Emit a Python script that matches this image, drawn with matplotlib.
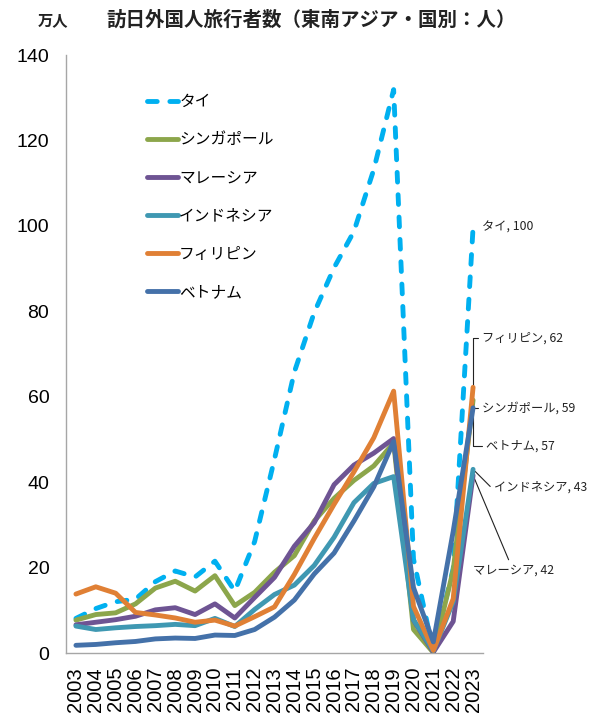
import numpy as np
import matplotlib
matplotlib.use('Agg')
import matplotlib.pyplot as plt

plt.rcParams['font.family'] = ['Liberation Sans', 'Noto Sans CJK JP', 'DejaVu Sans']
JP = ['Noto Sans CJK JP', 'DejaVu Sans']

years = list(range(2003, 2024))

# 万人
thai = [8.1, 10.4, 12.0, 12.6, 16.7, 19.2, 17.8, 21.5, 14.5, 26.1, 45.4,
        65.8, 79.7, 90.2, 98.7, 113.2, 131.9, 22.0, 0.3, 19.8, 99.6]
singapore = [7.7, 9.0, 9.4, 11.5, 15.2, 16.8, 14.5, 18.1, 11.1, 14.2, 18.9,
             22.8, 30.9, 36.2, 40.4, 43.8, 49.2, 5.5, 0.1, 19.4, 59.2]
malaysia = [6.6, 7.2, 7.8, 8.6, 10.1, 10.6, 9.0, 11.5, 8.2, 13.0, 17.7,
            25.0, 30.5, 39.4, 44.0, 46.8, 50.2, 7.7, 0.2, 7.4, 41.6]
indonesia = [6.3, 5.5, 5.9, 6.2, 6.4, 6.7, 6.4, 8.1, 6.2, 10.2, 13.7,
             15.9, 20.5, 27.1, 35.2, 39.7, 41.3, 7.8, 0.5, 12.0, 43.0]
philippines = [13.8, 15.5, 14.0, 9.5, 8.9, 8.2, 7.2, 7.7, 6.3, 8.5, 10.8,
               18.4, 26.8, 34.8, 42.4, 50.4, 61.3, 10.9, 0.6, 12.7, 62.2]
vietnam = [1.8, 2.0, 2.4, 2.7, 3.3, 3.5, 3.4, 4.2, 4.1, 5.5, 8.4,
           12.4, 18.5, 23.4, 30.9, 38.9, 49.5, 15.3, 2.6, 28.5, 57.4]

names = ['タイ', 'シンガポール', 'マレーシア', 'インドネシア', 'フィリピン', 'ベトナム']
series = [thai, singapore, malaysia, indonesia, philippines, vietnam]
colors = ['#00B0F0', '#8CA64B', '#6E5493', '#3F98B2', '#E08035', '#4471A9']

fig = plt.figure(figsize=(5.89, 7.17), dpi=100)
ax = fig.add_axes([66/589, 1-653/717, (483-66)/589, (653-55)/717])

for i in range(len(series)):
    if i == 0:
        ax.plot(years, series[i], color=colors[i], lw=3.5, label=names[i],
                dashes=(2, 2.6), dash_capstyle='round', solid_joinstyle='round', zorder=2+i)
    else:
        ax.plot(years, series[i], color=colors[i], lw=3.5, label=names[i],
                solid_capstyle='round', solid_joinstyle='round', zorder=2+i)

ax.set_xlim(2002.5, 2023.5)
ax.set_ylim(0, 140)
ax.set_yticks(range(0, 141, 20))
ax.set_xticks(years)
ax.set_xticklabels([str(y) for y in years], rotation=90, fontsize=14.5)
ax.tick_params(axis='y', labelsize=14, length=0, pad=12)
ax.tick_params(axis='x', length=0, pad=10)
for s in ['top', 'right']:
    ax.spines[s].set_visible(False)
for s in ['left', 'bottom']:
    ax.spines[s].set_color('#A6A6A6')
    ax.spines[s].set_linewidth(1.0)

leg = ax.legend(loc='upper left', bbox_to_anchor=(147/589, 1-93/717),
                bbox_transform=fig.transFigure, frameon=False,
                prop={'family': JP, 'size': 11.3}, handlelength=1.95,
                handletextpad=0.1, labelspacing=1.35, borderpad=0, borderaxespad=0)

# data labels at 2023
lab = dict(fontsize=8.8, family=JP, color='#222222', textcoords='offset pixels', va='center')
line = dict(arrowstyle='-', color='#222222', lw=0.8, shrinkA=1, shrinkB=2)
ax.annotate('タイ, 100', xy=(2023, thai[-1]), xytext=(9, 0), ha='left', **lab)
ax.annotate('フィリピン, 62', xy=(2023, philippines[-1]), xytext=(9, 49), ha='left',
            arrowprops=dict(connectionstyle='angle,angleA=0,angleB=90,rad=0', **line), **lab)
ax.annotate('シンガポール, 59', xy=(2023, singapore[-1]), xytext=(9, -8), ha='left',
            arrowprops=dict(connectionstyle='angle,angleA=0,angleB=90,rad=0', **line), **lab)
ax.annotate('ベトナム, 57', xy=(2023, vietnam[-1]), xytext=(13, -38), ha='left',
            arrowprops=dict(connectionstyle='angle,angleA=0,angleB=90,rad=0', **line), **lab)
ax.annotate('インドネシア, 43', xy=(2023, indonesia[-1]), xytext=(21, -18), ha='left',
            arrowprops=dict(connectionstyle='angle,angleA=0,angleB=-45,rad=0', **line), **lab)
ax.annotate('マレーシア, 42', xy=(2023, malaysia[-1]), xytext=(40, -95), ha='center',
            arrowprops=dict(connectionstyle='arc3,rad=0', **line), **lab)

fig.text(53/589, 1-20/717, '万人', family=JP, fontsize=11, fontweight='bold',
         ha='center', va='center', color='#222222')
fig.text(311/589, 1-20/717, '訪日外国人旅行者数（東南アジア・国別：人）', family=JP,
         fontsize=14, fontweight='bold', ha='center', va='center', color='#222222')

fig.savefig('out.png', dpi=100)
